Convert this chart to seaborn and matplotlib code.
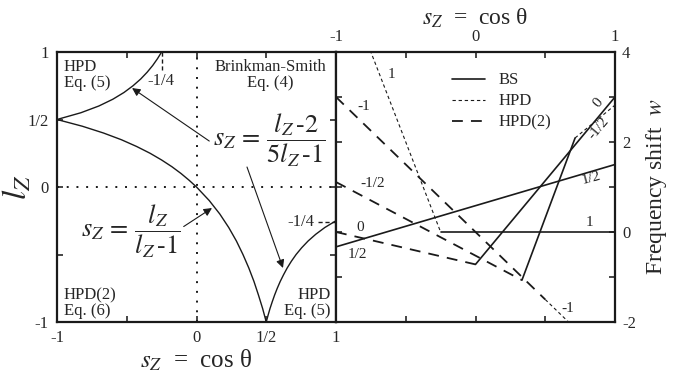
import numpy as np
import matplotlib
matplotlib.use('Agg')
import matplotlib.pyplot as plt
from matplotlib.lines import Line2D
import seaborn as sns

# Left panel: region boundaries (s_z, l_z values)
l_lin = [0.5, 0.45, 0.4, 0.35, 0.3, 0.25, 0.2, 0.15, 0.1, 0.05, 0.0, -0.1, -0.2, -0.3,
         -0.4, -0.5, -0.6, -0.7, -0.8, -0.9, -0.95, -1.0]
s_lin = [-1.0, -0.818, -0.667, -0.538, -0.429, -0.333, -0.25, -0.176, -0.111, -0.053, 0.0,
         0.091, 0.167, 0.231, 0.286, 0.333, 0.375, 0.412, 0.444, 0.474, 0.487, 0.5]
l_up = [0.5, 0.55, 0.6, 0.65, 0.7, 0.75, 0.8, 0.85, 0.9, 0.95, 1.0]
s_up = [-1.0, -0.829, -0.7, -0.6, -0.52, -0.455, -0.4, -0.354, -0.314, -0.28, -0.25]
l_low = [-1.0, -0.95, -0.9, -0.85, -0.8, -0.75, -0.7, -0.65, -0.6, -0.55, -0.5, -0.45,
         -0.4, -0.35, -0.3, -0.25]
s_low = [0.5, 0.513, 0.527, 0.543, 0.56, 0.579, 0.6, 0.624, 0.65, 0.68, 0.714, 0.754,
         0.8, 0.855, 0.92, 1.0]

# Right panel: frequency shift w vs s_z, one segment per l_z and regime
bs_s = {'1': [-0.25, 1.0], '1/2': [-1.0, 1.0], '0': [0.0, 1.0], '-1/2': [0.333, 0.714]}
bs_w = {'1': [0.0, 0.0], '1/2': [-0.33, 1.5], '0': [-0.72, 3.0], '-1/2': [-1.07, 2.09]}
hpd_s = {'1': [-1.0, -0.25], '-1/2': [0.714, 1.0], '-1': [0.5, 1.0]}
hpd_w = {'1': [6.0, 0.0], '-1/2': [2.09, 2.82], '-1': [-1.5, -3.0]}
hpd2_s = {'-1': [-1.0, 0.5], '-1/2': [-1.0, 0.333], '0': [-1.0, 0.0]}
hpd2_w = {'-1': [3.0, -1.5], '-1/2': [1.11, -1.07], '0': [0.0, -0.72]}

sns.set_theme(style='ticks')
plt.rcParams['font.family'] = ['Liberation Serif', 'DejaVu Serif']
plt.rcParams['mathtext.fontset'] = 'stix'
plt.rcParams['axes.unicode_minus'] = False

fig = plt.figure(figsize=(6.81, 3.77), dpi=100)
ax1 = fig.add_axes([57/681, 55/377, 279/681, 270/377])
ax2 = fig.add_axes([336/681, 55/377, 279/681, 270/377])

bs_style = dict(color='k', lw=1.2, linestyle='-')
hpd_style = dict(color='k', lw=0.8, linestyle=(0, (3, 2.5)))
hpd2_style = dict(color='k', lw=1.3, linestyle=(0, (6, 4.5)))
xlab = '$s_Z$  =  cos θ'

#Left panel
for s, l in [(s_lin, l_lin), (s_up, l_up), (s_low, l_low)]:
    sns.lineplot(x=s, y=l, ax=ax1, sort=False, estimator=None, color='k', lw=1.0)
ax1.axvline(0, color='k', lw=1.4, linestyle=(0, (1, 4)))
ax1.axhline(0, color='k', lw=1.4, linestyle=(0, (1, 4)))
ax1.set_xlim(-1, 1)
ax1.set_ylim(-1, 1)
ax1.set_xticks([-1, -0.5, 0, 0.5, 1])
ax1.set_xticklabels(['-1', '', '0', '1/2', '1'])
ax1.set_yticks([-1, -0.5, 0, 0.5, 1])
ax1.set_yticklabels(['-1', '', '0', '1/2', '1'])
ax1.tick_params(direction='in', length=4, width=1.2, top=True, right=True,
                labelsize=12, pad=6)
ax1.set_xlabel(xlab, fontsize=18, labelpad=1)
ax1.set_ylabel(r'$l_Z$', fontsize=24)
ax1.yaxis.set_label_coords(-0.085, 0.5)

ax1.plot([-0.25, -0.25], [1.0, 0.87], color='k', lw=1.0, linestyle=(0, (3, 2)))
ax1.text(-0.255, 0.785, '-1/4', fontsize=12, ha='center', va='center')
ax1.plot([0.87, 1.0], [-0.256, -0.256], color='k', lw=1.0, linestyle=(0, (3, 2)))
ax1.text(0.75, -0.256, '-1/4', fontsize=12, ha='center', va='center')

ax1.text(-0.95, 0.945, 'HPD\nEq. (5)', fontsize=12, ha='left', va='top', linespacing=0.95)
ax1.text(0.53, 0.945, 'Brinkman-Smith\nEq. (4)', fontsize=12, ha='center', va='top',
         multialignment='center', linespacing=0.95)
ax1.text(-0.95, -0.975, 'HPD(2)\nEq. (6)', fontsize=12, ha='left', va='bottom',
         linespacing=0.95)
ax1.text(0.96, -0.975, 'HPD\nEq. (5)', fontsize=12, ha='right', va='bottom',
         multialignment='right', linespacing=0.95)

arrow = dict(arrowstyle='-|>', color='k', lw=0.8, mutation_scale=12,
             shrinkA=0, shrinkB=0)
ax1.annotate(r'$s_Z\,=\,\dfrac{l_Z\,\text{-}2}{5l_Z\,\text{-}1}$', xy=(-0.462, 0.733),
             xytext=(0.115, 0.345), fontsize=19, ha='left', va='center',
             arrowprops=dict(arrow, relpos=(0, 0.45)))
ax1.annotate('', xy=(0.62, -0.6), xytext=(0.362, 0.148), arrowprops=arrow)
ax1.annotate(r'$s_Z\,=\,\dfrac{l_Z}{l_Z\,\text{-}1}$', xy=(0.111, -0.156),
             xytext=(-0.83, -0.33), fontsize=19, ha='left', va='center',
             arrowprops=dict(arrow, relpos=(1, 0.55)))

#Right panel
for key in bs_s:
    sns.lineplot(x=bs_s[key], y=bs_w[key], ax=ax2, sort=False, estimator=None, **bs_style)
for key in hpd_s:
    sns.lineplot(x=hpd_s[key], y=hpd_w[key], ax=ax2, sort=False, estimator=None, **hpd_style)
for key in hpd2_s:
    sns.lineplot(x=hpd2_s[key], y=hpd2_w[key], ax=ax2, sort=False, estimator=None, **hpd2_style)
ax2.set_xlim(-1, 1)
ax2.set_ylim(-2, 4)
ax2.set_xticks([-1, -0.5, 0, 0.5, 1])
ax2.set_xticklabels(['-1', '', '0', '', '1'])
ax2.set_yticks([-2, -1, 0, 1, 2, 3, 4])
ax2.set_yticklabels(['-2', '', '0', '', '2', '', '4'])
ax2.tick_params(direction='in', length=4, width=1.2, top=True, bottom=True,
                left=True, right=True, labeltop=True, labelbottom=False,
                labelleft=False, labelright=True, labelsize=12, pad=5)
ax2.xaxis.set_label_position('top')
ax2.yaxis.set_label_position('right')
ax2.set_xlabel(xlab, fontsize=17, labelpad=3)
ax2.set_ylabel(r'Frequency shift  $w$', fontsize=17, labelpad=6, rotation=90)

lab = dict(fontsize=11, ha='center', va='center')
ax2.text(-0.6, 3.5, '1', **lab)
ax2.text(-0.8, 2.8, '-1', **lab)
ax2.text(-0.74, 1.07, '-1/2', **lab)
ax2.text(-0.83, 0.1, '0', **lab)
ax2.text(-0.85, -0.5, '1/2', **lab)
ax2.text(0.82, 0.2, '1', **lab)
ax2.text(0.83, 1.2, '1/2', rotation=15, **lab)
ax2.text(0.88, 2.88, '0', rotation=50, **lab)
ax2.text(0.88, 2.3, '-1/2', rotation=50, **lab)
ax2.text(0.66, -1.7, '-1', **lab)

handles = [Line2D([], [], **bs_style), Line2D([], [], **hpd_style),
           Line2D([], [], **hpd2_style)]
ax2.legend(handles, ['BS', 'HPD', 'HPD(2)'], loc='upper left',
           bbox_to_anchor=(0.385, 0.955), frameon=False, fontsize=12,
           handlelength=2.0, handletextpad=0.8, labelspacing=0.3, borderpad=0)

for ax in (ax1, ax2):
    for sp in ax.spines.values():
        sp.set_linewidth(1.6)
        sp.set_color('k')

fig.savefig('out.png', dpi=100)
